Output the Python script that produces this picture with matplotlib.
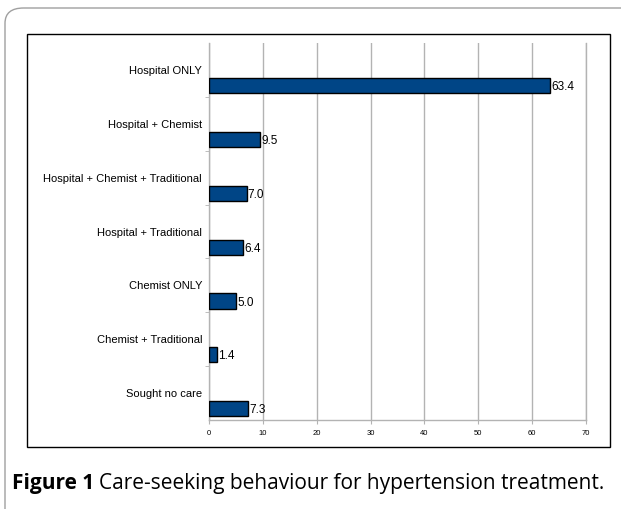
import matplotlib
matplotlib.use("Agg")
import matplotlib.pyplot as plt
from matplotlib.patches import Rectangle, FancyBboxPatch

# care-seeking categories and percentages
categories = [
    "Hospital ONLY",
    "Hospital + Chemist",
    "Hospital + Chemist + Traditional",
    "Hospital + Traditional",
    "Chemist ONLY",
    "Chemist + Traditional",
    "Sought no care",
]
percent = [63.4, 9.5, 7.0, 6.4, 5.0, 1.4, 7.3]
xticks = [0, 10, 20, 30, 40, 50, 60, 70]

W, H = 621, 509
narrow = ["Liberation Sans", "DejaVu Sans"]
fig = plt.figure(figsize=(W / 100, H / 100), dpi=100)

# outer rounded frame (light grey) and inner chart box (black)
outer = FancyBboxPatch((5 / W, -0.1), 1.2, 1 - 8 / H + 0.1,
                       boxstyle="round,pad=0,rounding_size=0.03",
                       transform=fig.transFigure, fill=False,
                       edgecolor="#a0a0a0", linewidth=1.0)
fig.patches.append(outer)
inner = Rectangle((27 / W, 1 - 447 / H), 583 / W, 413 / H,
                  transform=fig.transFigure, fill=False,
                  edgecolor="black", linewidth=1.0)
fig.patches.append(inner)

ax = fig.add_axes([209 / W, 1 - 420 / H, 377 / W, 377 / H])

ypos = list(range(len(categories)))
bar_y = [y + 0.29 for y in ypos]
ax.barh(bar_y, percent, height=0.28, color="#004586",
        edgecolor="black", linewidth=1.0, zorder=3)

for y, v in zip(bar_y, percent):
    ax.text(v + 0.2, y + 0.03, "%.1f" % v, va="center", ha="left",
            fontsize=8.5, family=narrow, color="black")

ax.set_xlim(0, 70)
ax.set_ylim(len(categories) - 0.5, -0.5)
ax.set_xticks(xticks)
ax.set_xticklabels([str(t) for t in xticks], fontsize=5.5, family=narrow)
ax.set_yticks(ypos)
ax.set_yticklabels(categories, fontsize=8, family=narrow)
ax.tick_params(axis="y", length=0, pad=5)
ax.tick_params(axis="x", length=3, color="#b3b3b3", pad=4)

# minor ticks on the y axis at category boundaries
ax.set_yticks([y + 0.5 for y in ypos[:-1]], minor=True)
ax.tick_params(axis="y", which="minor", length=3, color="#b3b3b3")

ax.grid(axis="x", color="#b3b3b3", linewidth=1.0, zorder=0)
ax.spines["top"].set_visible(False)
for s in ["left", "bottom", "right"]:
    ax.spines[s].set_color("#b3b3b3")
    ax.spines[s].set_linewidth(1.0)

t1 = fig.text(12 / W, 1 - 484 / H, "Figure 1", fontsize=15, weight="bold",
              va="center", ha="left", family="Open Sans")
fig.canvas.draw()
bb = t1.get_window_extent()
fig.text(bb.x1 / W + 5 / W, 1 - 484 / H,
         "Care-seeking behaviour for hypertension treatment.",
         fontsize=15, va="center", ha="left", family="Open Sans")

fig.savefig("out.png", dpi=100)
